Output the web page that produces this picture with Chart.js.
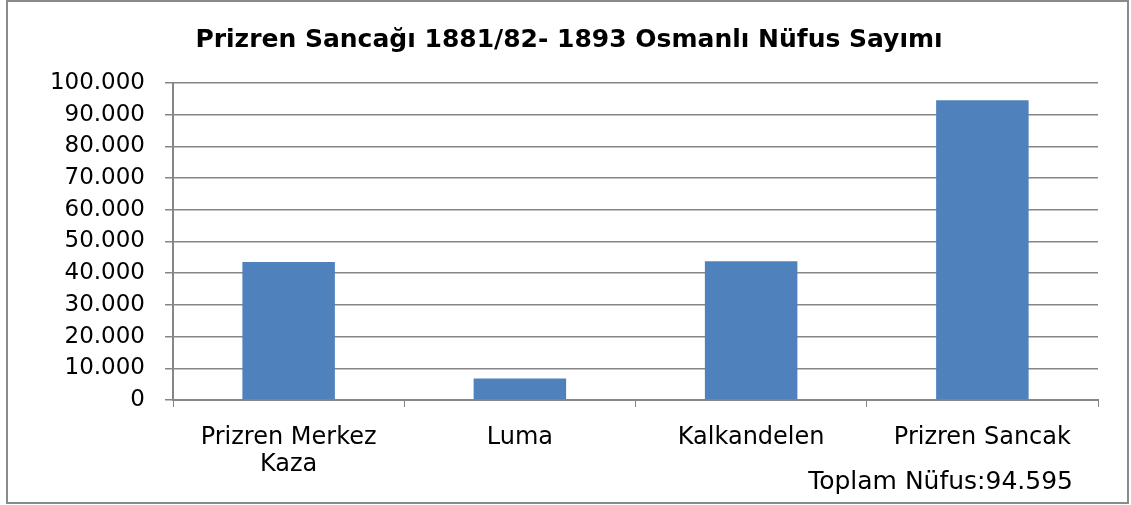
<!DOCTYPE html>
<html>
<head>
<meta charset="utf-8">
<script src="https://cdn.jsdelivr.net/npm/chart.js@4.4.1/dist/chart.umd.min.js"></script>
<style>
  html, body { margin: 0; padding: 0; background: #fff; }
  #wrap { width: 1131px; height: 505px; }
</style>
</head>
<body>
<div id="wrap"><canvas id="nufusChart" width="1131" height="505"></canvas></div>
<script>
// Data
const categories = [['Prizren Merkez', 'Kaza'], 'Luma', 'Kalkandelen', 'Prizren Sancak'];
const populations = [43500, 6800, 43800, 94595];
const yTicks = [0, 10000, 20000, 30000, 40000, 50000, 60000, 70000, 80000, 90000, 100000];
const chartTitle = 'Prizren Sancağı 1881/82- 1893 Osmanlı Nüfus Sayımı';
const totalNote = 'Toplam Nüfus:94.595';

const gridGray = '#868686';

// format 10000 -> 10.000
function fmt(v) {
    return String(v).replace(/\B(?=(\d{3})+(?!\d))/g, '.');
}

// frame around the chart + total note under the last label
const extras = {
    id: 'extras',
    afterDraw(chart) {
        const ctx = chart.ctx;
        ctx.save();
        ctx.strokeStyle = '#8a8a8a';
        ctx.lineWidth = 2;
        ctx.strokeRect(7, 1, 1121, 502);
        ctx.fillStyle = '#000';
        ctx.font = '25px "DejaVu Sans"';
        ctx.textAlign = 'right';
        ctx.textBaseline = 'middle';
        ctx.fillText(totalNote, chart.chartArea.right - 25, 482);
        ctx.restore();
    }
};

const ctx = document.getElementById('nufusChart').getContext('2d');
const nufusChart = new Chart(ctx, {
    type: 'bar',
    data: {
        labels: categories,
        datasets: [{
            data: populations,
            backgroundColor: '#4F81BD',
            borderWidth: 0,
            barPercentage: 0.4,
            categoryPercentage: 1
        }]
    },
    options: {
        responsive: false,
        animation: false,
        layout: { padding: { left: 40, right: 33, top: 0, bottom: 0 } },
        plugins: {
            legend: { display: false },
            tooltip: { enabled: false },
            title: {
                display: true,
                text: chartTitle,
                color: '#000',
                font: { family: 'DejaVu Sans', size: 25, weight: 'bold', lineHeight: 1.2 },
                padding: { top: 25, bottom: 28 }
            }
        },
        scales: {
            x: {
                grid: {
                    offset: true,
                    drawOnChartArea: false,
                    drawTicks: true,
                    tickLength: 7,
                    color: gridGray
                },
                border: { color: gridGray, width: 2 },
                ticks: {
                    color: '#000',
                    font: { family: 'DejaVu Sans', size: 24, lineHeight: 1.125 },
                    padding: 17,
                    maxRotation: 0
                },
                afterFit(scale) { scale.height = 105; }
            },
            y: {
                min: 0,
                max: 100000,
                afterBuildTicks(scale) {
                    scale.ticks = yTicks.map(v => ({ value: v }));
                },
                grid: {
                    color: gridGray,
                    lineWidth: 1.5,
                    tickLength: 8
                },
                border: { color: gridGray, width: 2 },
                ticks: {
                    color: '#000',
                    font: { family: 'DejaVu Sans', size: 23 },
                    padding: 20,
                    callback: v => fmt(v)
                },
                afterFit(scale) { scale.width = 133; }
            }
        }
    },
    plugins: [extras]
});
</script>
</body>
</html>
